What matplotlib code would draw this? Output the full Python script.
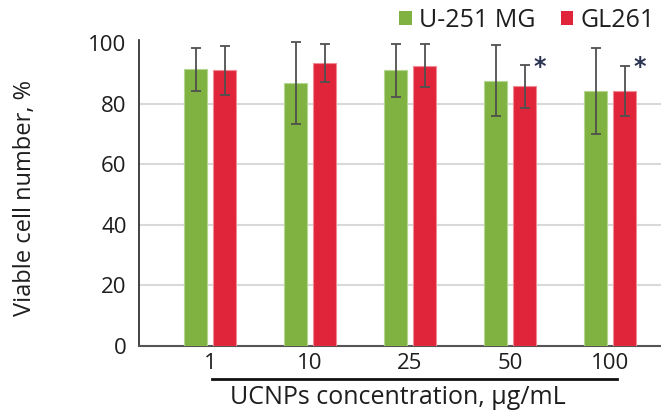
import numpy as np
import matplotlib
matplotlib.use('Agg')
import matplotlib.pyplot as plt
from matplotlib.patches import Patch
from matplotlib.lines import Line2D

plt.rcParams['font.family'] = ['Open Sans', 'DejaVu Sans']

# data
concentrations = ['1', '10', '25', '50', '100']
u251 = [91.3, 86.8, 91.0, 87.6, 84.1]
u251_err = [7.0, 13.4, 8.8, 11.8, 14.1]
gl261 = [91.0, 93.3, 92.5, 85.7, 84.1]
gl261_err = [8.1, 6.3, 7.1, 7.1, 8.3]
gl261_signif = [False, False, False, True, True]

green = '#7fb241'
red = '#e0253a'
text_col = '#1e1e1e'

fig = plt.figure(figsize=(6.61, 4.11), dpi=100)
ax = fig.add_axes([139 / 661, 1 - 346 / 411, 1 - 139 / 661, 306 / 411])

x = np.arange(len(concentrations))
w = 0.235
off = 0.145
err_kw = dict(ecolor='#505050', elinewidth=1.3, capsize=3.5, capthick=1.3)
ax.bar(x - off, u251, w, color=green, edgecolor='#b5d68e', linewidth=0.8,
       yerr=u251_err, error_kw=err_kw, zorder=3)
ax.bar(x + off, gl261, w, color=red, edgecolor='#f08c96', linewidth=0.8,
       yerr=gl261_err, error_kw=err_kw, zorder=3)

# significance marks
for i, s in enumerate(gl261_signif):
    if s:
        ax.text(x[i] + off + 0.155, 92.0, '*', fontsize=17, fontweight='bold',
                color='#2b3452', ha='center', va='center', family='DejaVu Sans')

ax.set_xlim(-0.71, 4.51)
ax.set_ylim(0, 101)
ax.set_yticks([0, 20, 40, 60, 80, 100])
ax.set_xticks(x)
ax.set_xticklabels(concentrations)
for yv in [20, 40, 60, 80]:
    ax.axhline(yv, color='#d9d9d9', linewidth=1.5, zorder=1)

ax.tick_params(axis='both', length=0, labelsize=16, colors=text_col)
ax.tick_params(axis='x', pad=5)
ax.tick_params(axis='y', pad=9)
for side in ['top', 'right']:
    ax.spines[side].set_visible(False)
ax.spines['left'].set_color('#222222')
ax.spines['left'].set_linewidth(1.2)
ax.spines['bottom'].set_color('#555555')
ax.spines['bottom'].set_linewidth(1.5)

fig.text(25 / 661, 1 - 198 / 411, 'Viable cell number, %', rotation=90,
         fontsize=17, color=text_col, ha='center', va='center')

# line above the x axis title, then the title
fig.add_artist(Line2D([212 / 661, 617 / 661], [1 - 379 / 411, 1 - 379 / 411],
                      transform=fig.transFigure, color='#111111', linewidth=2))
fig.text(398 / 661, 1 - 397 / 411, 'UCNPs concentration, μg/mL',
         fontsize=18, color=text_col, ha='center', va='center')

handles = [Patch(facecolor=green, label='U-251 MG'),
           Patch(facecolor=red, label='GL261')]
fig.legend(handles=handles, loc='upper right', bbox_to_anchor=(1.025, 1.035),
           ncol=2, frameon=False, fontsize=18, handlelength=0.5,
           handleheight=0.5, handletextpad=0.3, columnspacing=1.0,
           labelcolor=text_col)

fig.savefig('out.png', dpi=100)
